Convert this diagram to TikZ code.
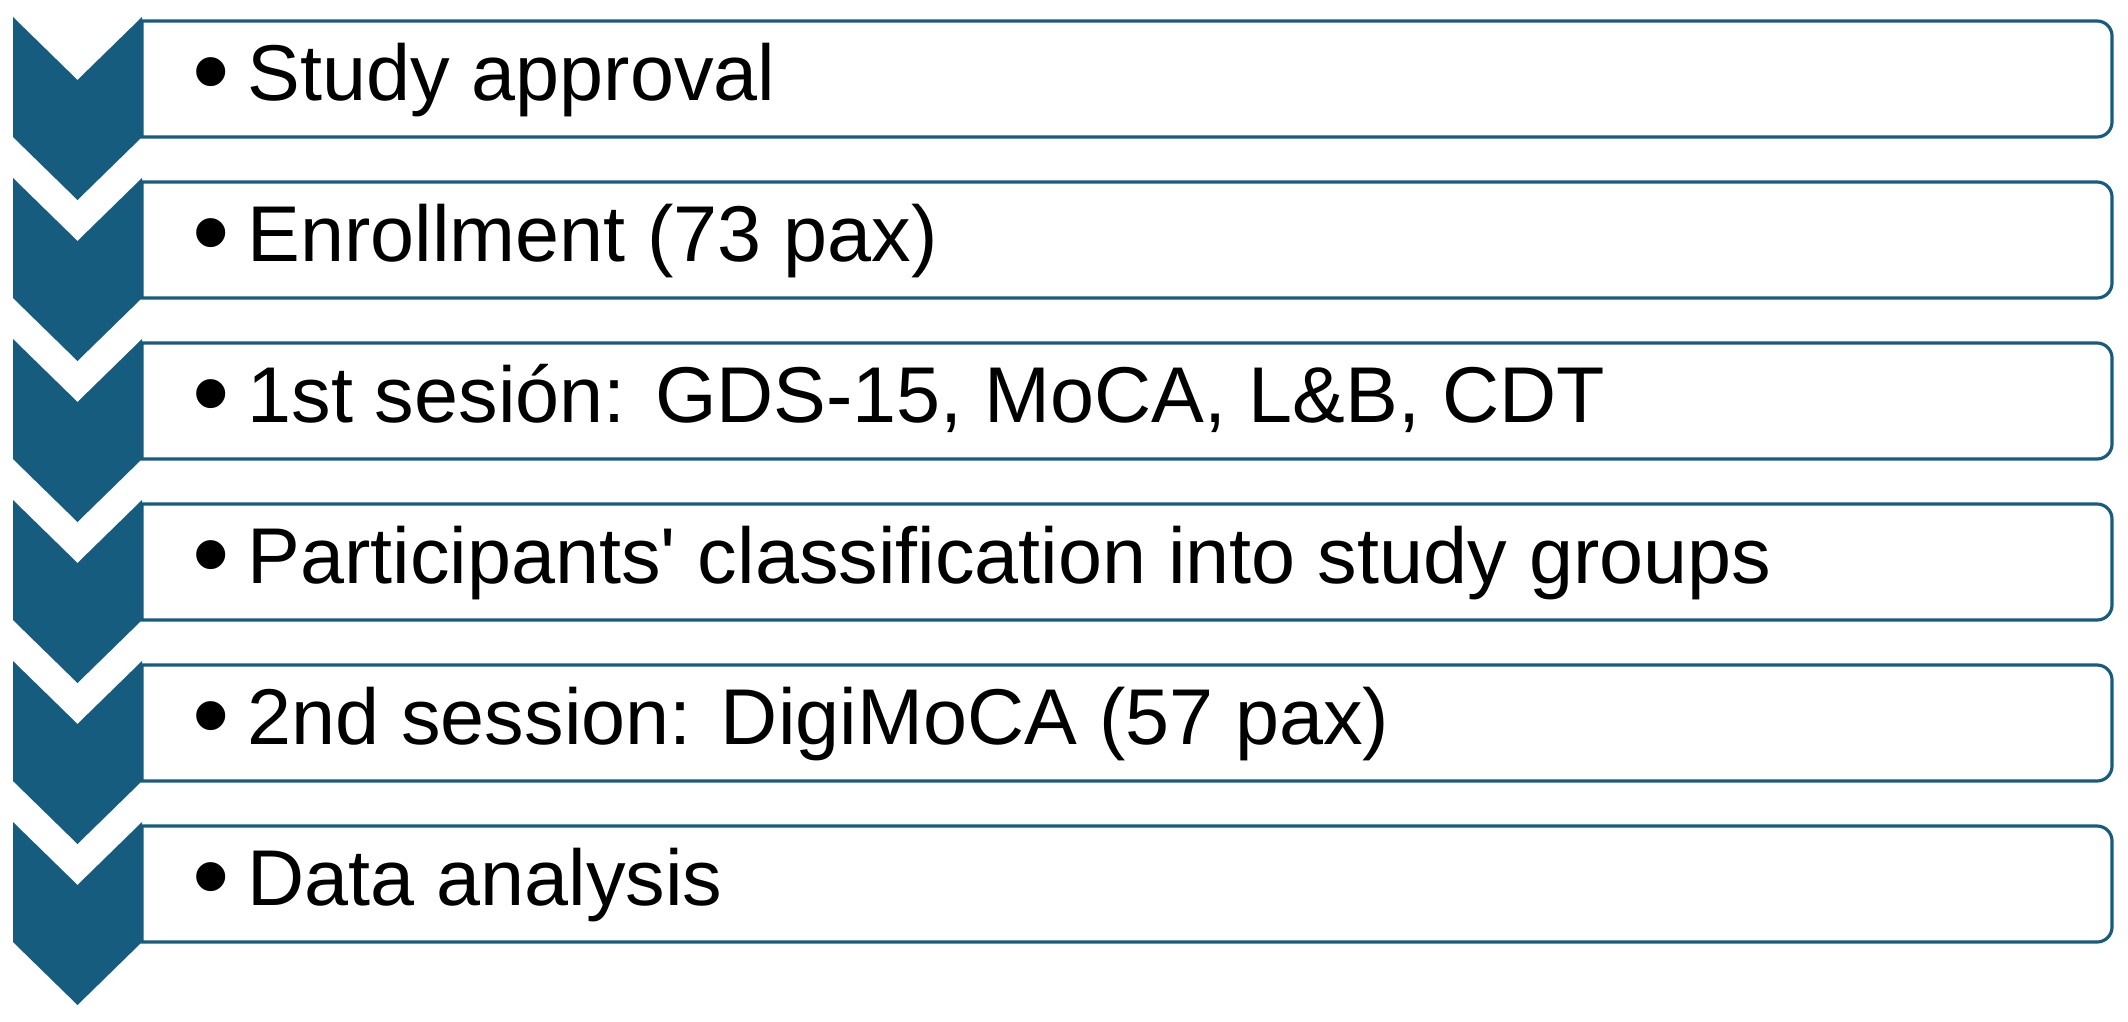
\documentclass[tikz,border=0pt]{standalone}
\usepackage{fontspec}
\setmainfont{Liberation Sans}
\definecolor{stepblue}{RGB}{22,92,126}
\newcommand{\stepdot}{\raisebox{-0.1em}{\scalebox{1.35}{\textbullet}}\hspace{0.22em}}
\tikzset{
  chevron/.style={fill=stepblue,draw=none},
  stepbox/.style={draw=stepblue,line width=0.9pt,fill=white},
  steptext/.style={anchor=base west,inner sep=0pt,font=\fontsize{22.5}{27}\selectfont}
}
\begin{document}
\begin{tikzpicture}[x=0.01cm,y=-0.01cm]
		\useasboundingbox (0,0) rectangle (2128,1021);
		% boxes first, chevrons on top
		\foreach \i in {0,...,5}{
			\pgfmathsetmacro{\yt}{21+161*\i}
			\pgfmathsetmacro{\yb}{137+161*\i}
			\draw[stepbox] (142,\yt) -- (2097,\yt) arc[start angle=-90,end angle=0,radius=15]
				-- (2112,\yb-15) arc[start angle=0,end angle=90,radius=15] -- (142,\yb) -- cycle;
		}
		\foreach \i in {0,...,5}{
			\pgfmathsetmacro{\yc}{17+161*\i}
			\fill[chevron] (13,\yc) -- (77.5,\yc+63) -- (142,\yc) -- (142,\yc+120)
				-- (77.5,\yc+183) -- (13,\yc+120) -- cycle;
		}
		% step labels
		\node[steptext] (s1) at (192,100) {\stepdot Study approval};
		\node[steptext] (s2) at (192,261) {\stepdot Enrollment (73 pax)};
		\node[steptext] (s3) at (192,422) {\stepdot 1st sesión: GDS-15, MoCA, L\&B, CDT};
		\node[steptext] (s4) at (192,583) {\stepdot Participants\textquotesingle\ classification into study groups};
		\node[steptext] (s5) at (192,744) {\stepdot 2nd session: DigiMoCA (57 pax)};
		\node[steptext] (s6) at (192,905) {\stepdot Data analysis};
\end{tikzpicture}
\end{document}
